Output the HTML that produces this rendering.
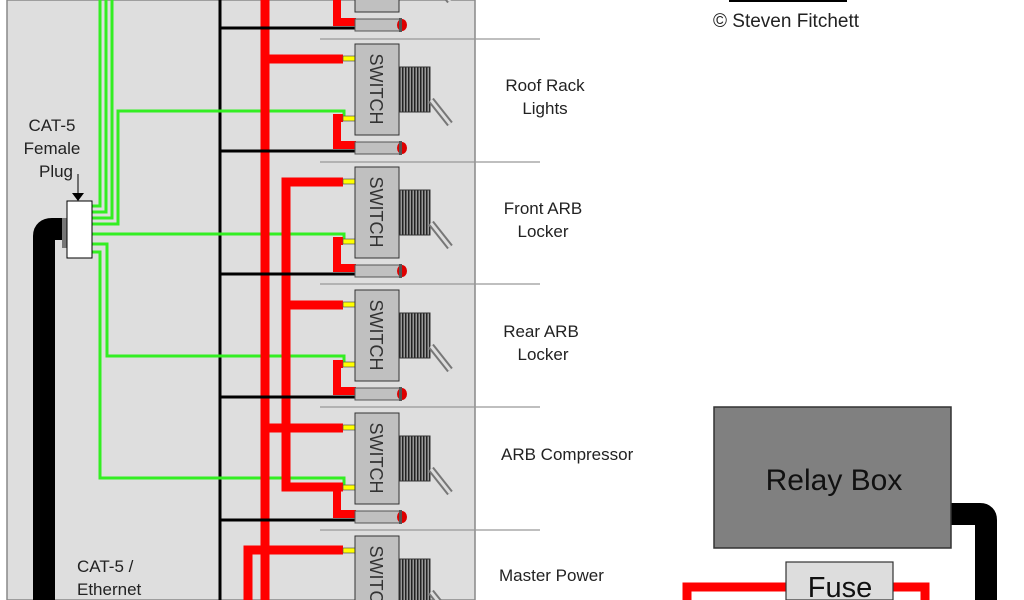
<!DOCTYPE html>
<html><head><meta charset="utf-8"><style>
html,body{margin:0;padding:0;background:#fff;width:1024px;height:600px;overflow:hidden}
#wrap{position:relative;width:1024px;height:600px;overflow:hidden}
svg{display:block;overflow:hidden}
text{font-family:"Liberation Sans",Arial,sans-serif}
</style></head><body><div id="wrap">
<svg width="1024" height="600" viewBox="0 0 1024 600" xmlns="http://www.w3.org/2000/svg">
<defs>
<clipPath id="frame"><rect x="0" y="0" width="1024" height="600"/></clipPath>
<pattern id="kn" width="3" height="10" patternUnits="userSpaceOnUse">
<rect width="3" height="10" fill="#999"/><rect width="1.5" height="10" fill="#222"/>
</pattern>
<g id="mod">
  <path d="M343,74 H337 V101 H356" fill="none" stroke="#f00" stroke-width="8"/>
  <line x1="220" y1="107" x2="356" y2="107" stroke="#000" stroke-width="3"/>
  <rect x="343" y="12" width="12" height="5" fill="#ff0" stroke="#555" stroke-width="0.7"/>
  <rect x="343" y="72" width="12" height="5" fill="#ff0" stroke="#555" stroke-width="0.7"/>
  <rect x="355" y="0" width="44" height="91" fill="#c0c0c0" stroke="#333" stroke-width="1"/>
  <text transform="translate(370,45) rotate(90)" text-anchor="middle" font-size="18" fill="#333">SWITCH</text>
  <rect x="399" y="23" width="31" height="45" fill="url(#kn)" stroke="#333" stroke-width="1"/>
  <line x1="431" y1="56" x2="450" y2="80" stroke="#777" stroke-width="7"/>
  <line x1="431" y1="56" x2="450" y2="80" stroke="#ddd" stroke-width="3"/>
  <rect x="355" y="98" width="45" height="12" fill="#c0c0c0" stroke="#555" stroke-width="1"/>
  <ellipse cx="402" cy="104" rx="5" ry="6" fill="#d00"/>
  <rect x="399" y="97" width="3" height="14" fill="#555"/>
</g>
</defs>
<g clip-path="url(#frame)">
<rect x="7" y="0" width="468" height="600" fill="#dedede" stroke="#888" stroke-width="1.5"/>
<g stroke="#999" stroke-width="1.2">
<line x1="320" y1="39" x2="540" y2="39"/><line x1="320" y1="162" x2="540" y2="162"/>
<line x1="320" y1="284" x2="540" y2="284"/><line x1="320" y1="407" x2="540" y2="407"/>
<line x1="320" y1="530" x2="540" y2="530"/>
</g>
<line x1="220" y1="0" x2="220" y2="600" stroke="#000" stroke-width="3"/>
<g fill="none" stroke="#33ee22" stroke-width="3">
<path d="M92,206 H100 V0"/>
<path d="M92,212 H106 V0"/>
<path d="M92,218 H112 V0"/>
<path d="M92,224 H118 V111 H344 V119"/>
<path d="M92,234 H344 V241"/>
<path d="M92,244 H107 V356 H344 V364"/>
<path d="M92,252 H100 V478 H344 V487"/>
</g>
<g fill="none" stroke="#f00" stroke-width="9">
<line x1="265" y1="0" x2="265" y2="600"/>
<path d="M265,59 H343"/>
<path d="M343,182 H286 V487 H343"/>
<path d="M286,305 H343"/>
<path d="M265,428 H343"/>
<path d="M343,550 H248 V600"/>
</g>
<use href="#mod" transform="translate(0,-79)"/>
<use href="#mod" transform="translate(0,44)"/>
<use href="#mod" transform="translate(0,167)"/>
<use href="#mod" transform="translate(0,290)"/>
<use href="#mod" transform="translate(0,413)"/>
<use href="#mod" transform="translate(0,536)"/>
<path d="M44,600 V236 Q44,229 52,229 H64" fill="none" stroke="#000" stroke-width="22"/>
<rect x="62" y="218" width="6" height="30" fill="#777"/>
<rect x="67" y="201" width="25" height="57" fill="#fff" stroke="#000" stroke-width="1"/>
<line x1="78" y1="174" x2="78" y2="195" stroke="#000" stroke-width="1"/>
<path d="M72,193 L84,193 L78,201 Z" fill="#000"/>
<text x="52" y="131" font-size="17" fill="#222" text-anchor="middle">CAT-5</text>
<text x="52" y="154" font-size="17" fill="#222" text-anchor="middle">Female</text>
<text x="56" y="177" font-size="17" fill="#222" text-anchor="middle">Plug</text>
<text x="77" y="572" font-size="17" fill="#222">CAT-5 /</text>
<text x="77" y="595" font-size="17" fill="#222">Ethernet</text>
<g font-size="17" fill="#222" text-anchor="middle">
<text x="545" y="91">Roof Rack</text><text x="545" y="114">Lights</text>
<text x="543" y="214">Front ARB</text><text x="543" y="237">Locker</text>
<text x="541" y="337">Rear ARB</text><text x="543" y="360">Locker</text>
</g>
<text x="501" y="460" font-size="17" fill="#222">ARB Compressor</text>
<text x="499" y="581" font-size="17" fill="#222">Master Power</text>
<rect x="729" y="0" width="118" height="2" fill="#000"/>
<text x="713" y="27" font-size="19" fill="#222">© Steven Fitchett</text>
<path d="M950,514 H980 Q986,514 986,520 V600" fill="none" stroke="#000" stroke-width="22"/>
<rect x="714" y="407" width="237" height="141" fill="#808080" stroke="#333" stroke-width="1.5"/>
<text x="834" y="490" font-size="30" fill="#111" text-anchor="middle">Relay Box</text>
<path d="M687,600 V587 H925 V600" fill="none" stroke="#f00" stroke-width="9"/>
<rect x="786" y="562" width="107" height="38" fill="#ddd" stroke="#333" stroke-width="1.2"/>
<text x="840" y="597" font-size="29" fill="#111" text-anchor="middle">Fuse</text>
</g>
</svg>
</div></body></html>
